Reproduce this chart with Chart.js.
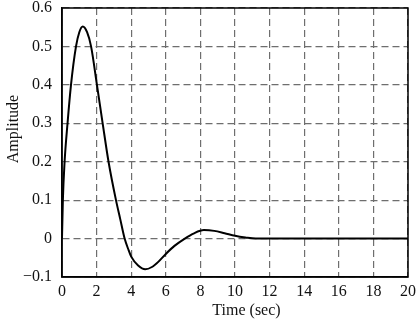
<!DOCTYPE html>
<html>
<head>
<meta charset="utf-8">
<script src="https://cdn.jsdelivr.net/npm/chart.js@4"></script>
<style>
html,body{margin:0;padding:0;background:#fff;}
canvas{display:block;}
</style>
</head>
<body>
<canvas id="c" width="419" height="322"></canvas>
<script>
// Data
const timeValues = [0, 0.05, 0.15, 0.32, 0.52, 0.81, 1.0, 1.2, 1.45, 1.68, 2.02, 2.35, 2.69, 3.12, 3.37, 3.62, 3.85, 4.0, 4.4, 4.81, 5.2, 5.58, 6.0, 6.5, 7.1, 7.6, 8.2, 8.8, 9.4, 10.0, 10.6, 11.2, 12, 14, 16, 18, 20];
const amplitudeValues = [0, 0.1, 0.2, 0.3, 0.4, 0.5, 0.537, 0.552, 0.537, 0.5, 0.4, 0.3, 0.2, 0.1, 0.05, 0, -0.03, -0.047, -0.07, -0.08, -0.074, -0.06, -0.04, -0.019, 0, 0.013, 0.022, 0.02, 0.014, 0.0075, 0.003, 0, 0, 0, 0, 0, 0];
const xTickValues = [0, 2, 4, 6, 8, 10, 12, 14, 16, 18, 20];
const yTickValues = [-0.1, 0, 0.1, 0.2, 0.3, 0.4, 0.5, 0.6];
const yTickLabels = ['\u22120.1', '0', '0.1', '0.2', '0.3', '0.4', '0.5', '0.6'];
const xTitle = 'Time (sec)';
const yTitle = 'Amplitude';

const FONT = '"Liberation Serif", "Times New Roman", serif';
const points = timeValues.map((t, i) => ({x: t, y: amplitudeValues[i]}));

const framePlugin = {
  id: 'frame',
  afterDraw(chart) {
    const {ctx, chartArea: a} = chart;
    ctx.save();
    ctx.strokeStyle = '#000';
    ctx.lineWidth = 1.5;
    ctx.strokeRect(a.left, a.top, a.right - a.left, a.bottom - a.top);
    ctx.fillStyle = '#111';
    ctx.font = '16px ' + FONT;
    ctx.textAlign = 'center';
    ctx.textBaseline = 'middle';
    ctx.fillText(xTitle, 246.5, 311);
    ctx.translate(14, 129);
    ctx.rotate(-Math.PI / 2);
    ctx.fillText(yTitle, 0, 0);
    ctx.restore();
  }
};

new Chart(document.getElementById('c'), {
  type: 'line',
  data: {
    datasets: [{
      data: points,
      borderColor: '#000',
      borderWidth: 2,
      pointRadius: 0,
      fill: false,
      cubicInterpolationMode: 'monotone'
    }]
  },
  options: {
    responsive: false,
    animation: false,
    devicePixelRatio: 1,
    layout: {autoPadding: false, padding: {top: 8, right: 11, left: 0, bottom: 0}},
    plugins: {legend: {display: false}, tooltip: {enabled: false}},
    scales: {
      x: {
        type: 'linear',
        min: 0, max: 20,
        afterBuildTicks(s) { s.ticks = xTickValues.map(v => ({value: v})); },
        afterFit(s) { s.height = 45; s.paddingLeft = 0; s.paddingRight = 0; },
        ticks: {
          color: '#111', font: {family: FONT, size: 16}, padding: 5,
          maxRotation: 0, autoSkip: false,
          callback: v => String(v)
        },
        grid: {color: '#6e6e6e', lineWidth: 1.2, drawTicks: false, tickLength: 0},
        border: {display: true, color: '#000', width: 1.5, dash: [7, 4]}
      },
      y: {
        type: 'linear',
        min: -0.1, max: 0.6,
        afterBuildTicks(s) { s.ticks = yTickValues.map(v => ({value: v})); },
        afterFit(s) { s.width = 62; s.paddingTop = 0; s.paddingBottom = 0; },
        ticks: {
          color: '#111', font: {family: FONT, size: 16}, padding: 10,
          autoSkip: false,
          callback: (v, i) => yTickLabels[i]
        },
        grid: {color: '#6e6e6e', lineWidth: 1.2, drawTicks: false, tickLength: 0},
        border: {display: true, color: '#000', width: 1.5, dash: [7, 4]}
      }
    }
  },
  plugins: [framePlugin]
});
</script>
</body>
</html>
